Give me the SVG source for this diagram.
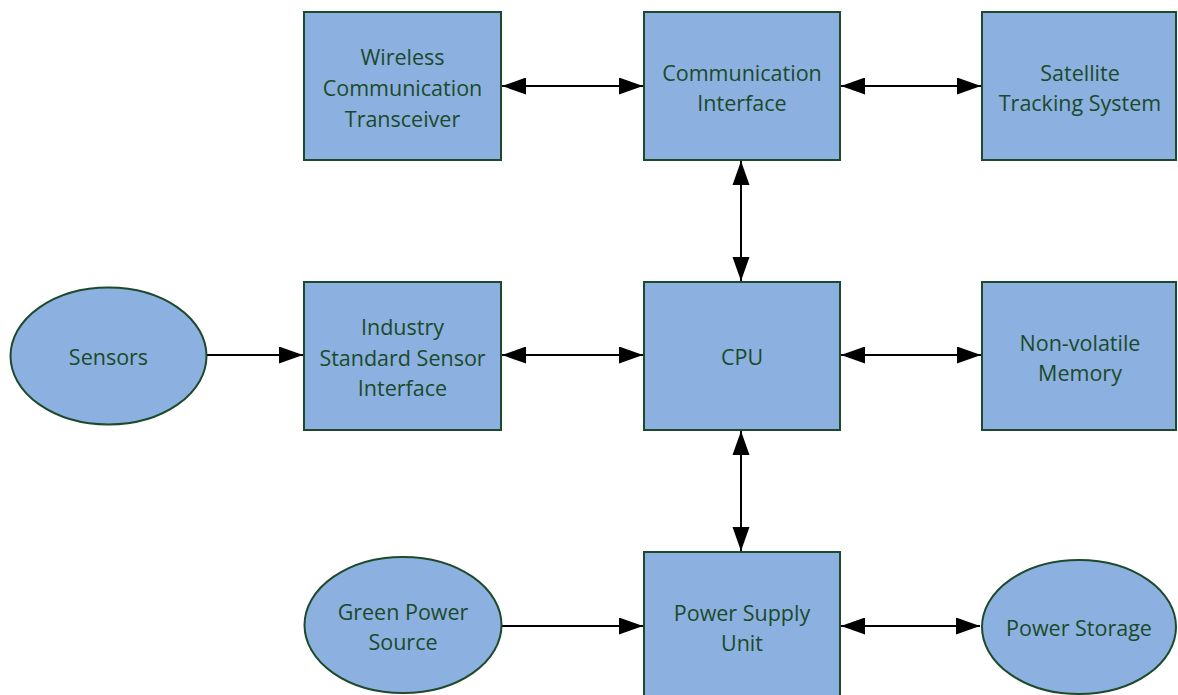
<svg xmlns="http://www.w3.org/2000/svg" width="1178" height="695" viewBox="0 0 1178 695">
  <defs>
    <style>
      .box { fill: #8cb0e0; stroke: #1d4a2a; stroke-width: 2; }
      .lbl { font-family: "Open Sans", "Noto Sans", sans-serif; font-size: 21.5px; fill: #1b4a2a; text-anchor: middle; dominant-baseline: central; }
      .link { stroke: #000; stroke-width: 2; fill: none; }
    </style>
    <marker id="arrowEnd" markerUnits="userSpaceOnUse" markerWidth="25" markerHeight="18" refX="24" refY="8.5" orient="auto">
      <path d="M0,0 L24,8.5 L0,17 Z" fill="#000"/>
    </marker>
    <marker id="arrowStart" markerUnits="userSpaceOnUse" markerWidth="25" markerHeight="18" refX="0" refY="8.5" orient="auto">
      <path d="M24,0 L0,8.5 L24,17 Z" fill="#000"/>
    </marker>
  </defs>
  <rect width="1178" height="695" fill="#fff"/>

  <g id="connectors">
    <line class="link" x1="502" y1="86" x2="643" y2="86" marker-start="url(#arrowStart)" marker-end="url(#arrowEnd)"/>
    <line class="link" x1="841" y1="86" x2="981" y2="86" marker-start="url(#arrowStart)" marker-end="url(#arrowEnd)"/>
    <line class="link" x1="741" y1="161" x2="741" y2="281" marker-start="url(#arrowStart)" marker-end="url(#arrowEnd)"/>
    <line class="link" x1="207" y1="355" x2="303" y2="355" marker-end="url(#arrowEnd)"/>
    <line class="link" x1="502" y1="355" x2="643" y2="355" marker-start="url(#arrowStart)" marker-end="url(#arrowEnd)"/>
    <line class="link" x1="841" y1="355" x2="981" y2="355" marker-start="url(#arrowStart)" marker-end="url(#arrowEnd)"/>
    <line class="link" x1="741" y1="431" x2="741" y2="551" marker-start="url(#arrowStart)" marker-end="url(#arrowEnd)"/>
    <line class="link" x1="502" y1="626" x2="643" y2="626" marker-end="url(#arrowEnd)"/>
    <line class="link" x1="841" y1="626" x2="980" y2="626" marker-start="url(#arrowStart)" marker-end="url(#arrowEnd)"/>
  </g>

  <g id="wireless">
    <rect class="box" x="304" y="12" width="197" height="148"/>
    <text class="lbl" x="402.5" y="56">Wireless</text>
    <text class="lbl" x="402.5" y="87">Communication</text>
    <text class="lbl" x="402.5" y="118">Transceiver</text>
  </g>
  <g id="comm-interface">
    <rect class="box" x="644" y="12" width="196" height="148"/>
    <text class="lbl" x="742" y="72">Communication</text>
    <text class="lbl" x="742" y="102">Interface</text>
  </g>
  <g id="satellite">
    <rect class="box" x="982" y="12" width="194" height="148"/>
    <text class="lbl" x="1080" y="72">Satellite</text>
    <text class="lbl" x="1080" y="102">Tracking System</text>
  </g>

  <g id="sensors">
    <ellipse class="box" cx="108.5" cy="356" rx="98" ry="68.5"/>
    <text class="lbl" x="108.5" y="356">Sensors</text>
  </g>
  <g id="sensor-interface">
    <rect class="box" x="304" y="282" width="197" height="148"/>
    <text class="lbl" x="402.5" y="326">Industry</text>
    <text class="lbl" x="402.5" y="357">Standard Sensor</text>
    <text class="lbl" x="402.5" y="387">Interface</text>
  </g>
  <g id="cpu">
    <rect class="box" x="644" y="282" width="196" height="148"/>
    <text class="lbl" x="742" y="356">CPU</text>
  </g>
  <g id="memory">
    <rect class="box" x="982" y="282" width="194" height="148"/>
    <text class="lbl" x="1080" y="342">Non-volatile</text>
    <text class="lbl" x="1080" y="372">Memory</text>
  </g>

  <g id="green-power">
    <ellipse class="box" cx="403" cy="625" rx="98.5" ry="68"/>
    <text class="lbl" x="403" y="611">Green Power</text>
    <text class="lbl" x="403" y="641">Source</text>
  </g>
  <g id="power-supply">
    <rect class="box" x="644" y="552" width="196" height="148"/>
    <text class="lbl" x="742" y="612">Power Supply</text>
    <text class="lbl" x="742" y="642">Unit</text>
  </g>
  <g id="power-storage">
    <ellipse class="box" cx="1079" cy="627" rx="97" ry="67"/>
    <text class="lbl" x="1079" y="627">Power Storage</text>
  </g>
</svg>
